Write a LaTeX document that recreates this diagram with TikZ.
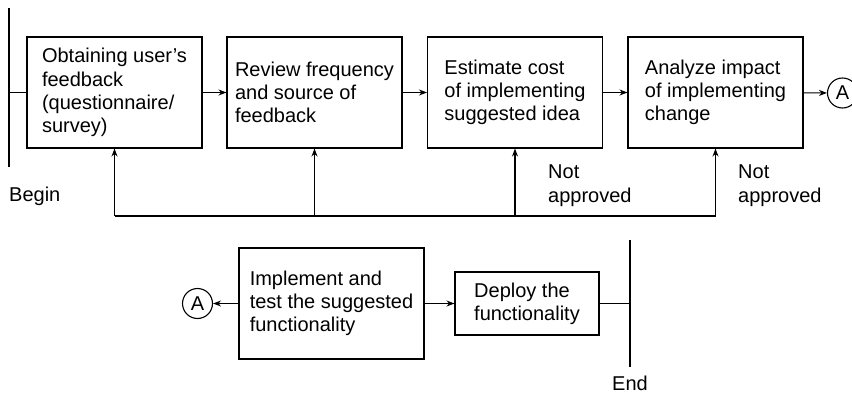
\documentclass[tikz,border=0pt]{standalone}
\usepackage{fontspec}
\setmainfont{Liberation Sans}
\usetikzlibrary{arrows.meta}
\begin{document}
\begin{tikzpicture}[x=1pt,y=-1pt,
  every node/.style={font=\fontsize{20}{23.3}\selectfont},
  box/.style={draw, line width=1.1pt, inner sep=0pt, align=left},
  topbox/.style={box, minimum width=175pt, minimum height=111pt},
  conn/.style={circle, draw, line width=1.1pt, minimum size=30pt, inner sep=0pt},
  ln/.style={line width=1.1pt},
  arr/.style={line width=1.1pt, -{Stealth[length=8pt,width=6pt]}},
  lbl/.style={inner sep=0pt, align=left}]
\useasboundingbox (0,0) rectangle (852,393);
% top row
\node[topbox] (b1) at (114.5,92.5) {Obtaining user’s\\feedback\\(questionnaire/\\survey)};
\node[topbox] (b2) at (314.5,92.5) {Review frequency\\and source of\\feedback};
\node[topbox] (b3) at (515,92.5) {Estimate cost\\of implementing\\suggested idea};
\node[topbox] (b4) at (715.5,92.5) {Analyze impact\\of implementing\\change};
\node[conn] (ca) at (842.5,93) {A};
% begin bar
\coordinate (bgt) at (9,8);
\coordinate (bgb) at (9,167);
\coordinate (bgm) at (9,92.5);
\draw[ln] (bgt) -- (bgb);
\draw[ln] (bgm) -- (b1.west);
\node[lbl, anchor=base west] (begin) at (9,201.3) {Begin};
% arrows along top row
\draw[arr] (b1) -- (b2);
\draw[arr] (b2) -- (b3);
\draw[arr] (b3) -- (b4);
\draw[arr] (b4) -- (ca);
% feedback loop
\coordinate (f1) at (114.5,216);
\coordinate (f2) at (314.5,216);
\coordinate (f3) at (515,216);
\coordinate (f4) at (715.5,216);
\draw[ln] (f1) -- (f4);
\draw[arr] (f1) -- (b1.south);
\draw[arr] (f2) -- (b2.south);
\draw[arr] (f3) -- (b3.south);
\draw[arr] (f4) -- (b4.south);
\node[lbl, anchor=north west] (na1) at (548,165) {Not\\approved};
\node[lbl, anchor=north west] (na2) at (738,165) {Not\\approved};
% bottom row
\node[box, minimum width=185pt, minimum height=111pt] (b5) at (331.5,303.5) {Implement and\\test the suggested\\functionality};
\node[box, minimum width=144pt, minimum height=63pt] (b6) at (527,303.5) {Deploy the\\functionality};
\node[conn] (cb) at (197.5,303.5) {A};
\draw[arr] (b5) -- (cb);
\draw[arr] (b5) -- (b6);
\coordinate (et) at (630,240);
\coordinate (eb) at (630,367);
\coordinate (em) at (630,303.5);
\draw[ln] (et) -- (eb);
\draw[ln] (b6.east) -- (em);
\node[lbl, anchor=base] (end) at (630,390) {End};
\end{tikzpicture}
\end{document}
